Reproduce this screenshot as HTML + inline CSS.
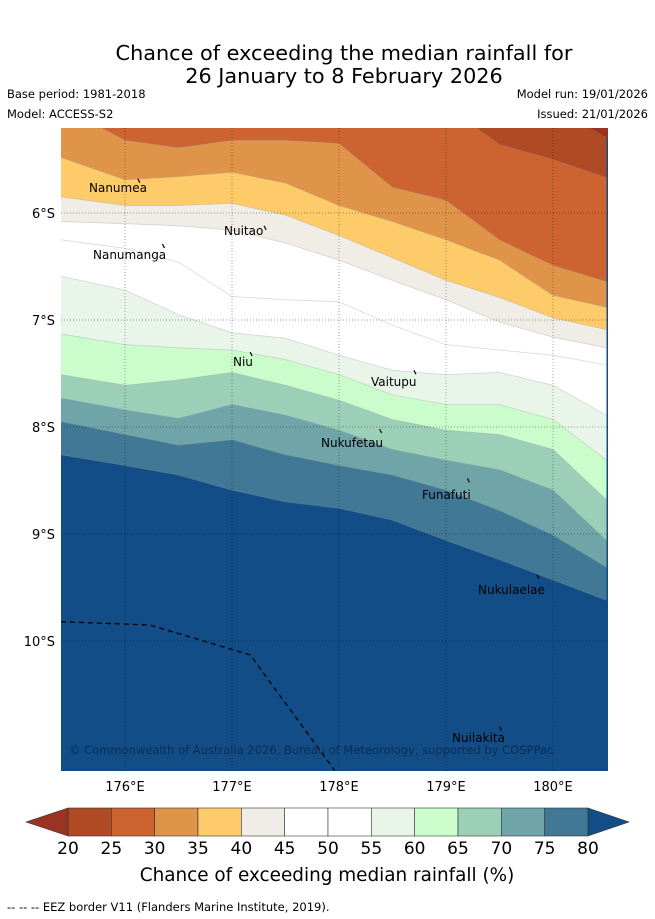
<!DOCTYPE html>
<html><head><meta charset="utf-8">
<style>
body{margin:0;background:#fff;font-family:"Liberation Sans","DejaVu Sans",sans-serif;}
#wrap{position:relative;width:655px;height:919px;overflow:hidden;}
</style></head>
<body>
<div id="wrap">
<svg id="svg" width="655" height="919" xmlns="http://www.w3.org/2000/svg" font-family="DejaVu Sans, Liberation Sans, sans-serif">
<text x="344" y="60" font-size="20.8" text-anchor="middle" fill="#000">Chance of exceeding the median rainfall for</text>
<text x="344" y="83" font-size="20.8" text-anchor="middle" fill="#000">26 January to 8 February 2026</text>
<text x="7" y="98" font-size="11.5">Base period: 1981-2018</text>
<text x="7" y="118" font-size="11.5">Model: ACCESS-S2</text>
<text x="648" y="98" font-size="11.5" text-anchor="end">Model run: 19/01/2026</text>
<text x="648" y="118" font-size="11.5" text-anchor="end">Issued: 21/01/2026</text>
<defs><clipPath id="mapclip"><rect x="61" y="128" width="547" height="643"/></clipPath></defs>
<g id="map" clip-path="url(#mapclip)"></g>
<g id="overlay"></g>
<g id="cbar"></g>
<text x="327" y="881" font-size="18.4" text-anchor="middle">Chance of exceeding median rainfall (%)</text>
<text x="7" y="911" font-size="11.5">--  --  -- EEZ border V11 (Flanders Marine Institute, 2019).</text>
</svg>
</div>
<script>
// ---- data ----
const lons = [175.4,176,176.5,177,177.5,178,178.5,179,179.5,180,180.5];
const levels = [25,30,35,40,45,50,55,60,65,70,75,80];
const b25 = [5.0,5.0,5.0,5.0,5.0,5.0,5.0,5.0,5.36,5.50,5.67];
const b30 = [5.0,5.32,5.39,5.32,5.32,5.35,5.76,5.88,6.25,6.49,6.64];
const b35 = [5.48,5.69,5.66,5.62,5.72,5.93,6.08,6.25,6.44,6.77,6.88];
const b40 = [5.85,5.93,5.93,5.91,6.02,6.21,6.42,6.63,6.79,6.98,7.09];
const b45 = [6.08,6.10,6.12,6.16,6.28,6.44,6.63,6.81,7.02,7.16,7.26];
const b50 = [6.25,6.33,6.46,6.78,6.81,6.83,7.05,7.23,7.28,7.33,7.42];
const b55 = [6.59,6.72,6.95,7.12,7.17,7.33,7.47,7.51,7.49,7.61,7.89];
const b60 = [7.13,7.23,7.26,7.28,7.37,7.51,7.70,7.79,7.79,7.93,8.31];
const b65 = [7.51,7.61,7.56,7.49,7.61,7.75,7.93,8.03,8.07,8.21,8.68];
const b70 = [7.73,7.84,7.92,7.79,7.89,8.03,8.21,8.31,8.40,8.59,9.06];
const b75 = [7.95,8.07,8.17,8.12,8.26,8.36,8.45,8.59,8.78,9.01,9.31];
const b80 = [8.26,8.36,8.45,8.59,8.70,8.76,8.87,9.06,9.24,9.43,9.62];
const colorTicks = [20,25,30,35,40,45,50,55,60,65,70,75,80];
const colors = ["#b04a25","#cc6331","#e0944a","#fecb6a","#f0ece6","#ffffff","#ffffff","#eaf5e9","#cbfccb","#9ccfb8","#6fa5a8","#417896"];
const underColor = "#9a3322", overColor = "#134d87";
const lonTicks = [176,177,178,179,180];
const latTicks = [6,7,8,9,10];
const eezLon = [175.4,176.23,177.17,177.96];
const eezLat = [9.82,9.85,10.13,11.21];
const islands = [["Nanumea",176.12,5.68,89,192],["Nuitao",177.3,6.12,224,235],["Nanumanga",176.35,6.29,93,259],["Niu",177.17,7.30,233,366],["Vaitupu",178.7,7.47,371,386],["Nukufetau",178.38,8.02,321,447],["Funafuti",179.2,8.48,422,499],["Nukulaelae",179.85,9.38,478,594],["Nuilakita",179.5,10.8,452,742]];
// ---- axes ----
const X = lon => 125 + (lon-176)*107;
const Y = lat => 213 + (lat-6)*107;
const NS='http://www.w3.org/2000/svg';
function mk(tag, parent){const e=document.createElementNS(NS,tag);parent.appendChild(e);return e;}
const map=document.getElementById('map'), ov=document.getElementById('overlay'), cb=document.getElementById('cbar');
const bounds=[b25,b30,b35,b40,b45,b50,b55,b60,b65,b70,b75,b80];
const bg=mk('rect',map);bg.setAttribute('x',61);bg.setAttribute('y',128);bg.setAttribute('width',547);bg.setAttribute('height',643);bg.setAttribute('fill',overColor);


function linePts(b){return lons.map((l,i)=>X(l).toFixed(1)+','+Y(b[i]).toFixed(1)).join(' ');}
for(let k=bounds.length-1;k>=0;k--){
  const b=bounds[k];
  const p=mk('polygon',map);
  p.setAttribute('points',X(lons[0])+','+Y(4)+' '+linePts(b)+' '+X(lons[lons.length-1])+','+Y(4));
  p.setAttribute('fill',colors[k]);
  
  
}
const under=mk('polygon',map);
under.setAttribute('points','590,128 608,128 608,138');
under.setAttribute('fill',underColor);


for(let k=0;k<bounds.length;k++){
  const l=mk('polyline',map);
  l.setAttribute('points',linePts(bounds[k]));
  l.setAttribute('fill','none');l.setAttribute('stroke','rgba(150,150,150,0.35)');l.setAttribute('stroke-width','0.8');
  
  
}
lonTicks.forEach(t=>{const g=mk('line',map);g.setAttribute('x1',X(t));g.setAttribute('x2',X(t));g.setAttribute('y1',128);g.setAttribute('y2',771);g.setAttribute('stroke','rgba(0,0,0,0.5)');g.setAttribute('stroke-width','0.7');g.setAttribute('stroke-dasharray','1,2');


const tx=mk('text',ov);tx.setAttribute('x',X(t));tx.setAttribute('y',791);tx.setAttribute('font-size','13');tx.setAttribute('text-anchor','middle');tx.textContent=t+'°E';

});
latTicks.forEach(t=>{const g=mk('line',map);g.setAttribute('x1',61);g.setAttribute('x2',608);g.setAttribute('y1',Y(t));g.setAttribute('y2',Y(t));g.setAttribute('stroke','rgba(0,0,0,0.5)');g.setAttribute('stroke-width','0.7');g.setAttribute('stroke-dasharray','1,2');


const tx=mk('text',ov);tx.setAttribute('x',55);tx.setAttribute('y',Y(t)+5);tx.setAttribute('font-size','13');tx.setAttribute('text-anchor','end');tx.textContent=t+'°S';

});
const ez=mk('polyline',map);
ez.setAttribute('points',eezLon.map((l,i)=>X(l)+','+Y(eezLat[i])).join(' '));
ez.setAttribute('fill','none');ez.setAttribute('stroke','#000');ez.setAttribute('stroke-width','1.3');ez.setAttribute('stroke-dasharray','5,4');


islands.forEach(is=>{
  const m=mk('line',map);m.setAttribute('x1',X(is[1]));m.setAttribute('y1',Y(is[2]));m.setAttribute('x2',X(is[1])+2);m.setAttribute('y2',Y(is[2])+4);m.setAttribute('stroke','#000');m.setAttribute('stroke-width','1.2');
  
  
  const t=mk('text',map);t.setAttribute('x',is[3]);t.setAttribute('y',is[4]);t.setAttribute('font-size','12');t.setAttribute('fill','#000');t.textContent=is[0];
  
  
});
const cp=mk('text',map);cp.setAttribute('x',69);cp.setAttribute('y',754);cp.setAttribute('font-size','11.5');cp.setAttribute('fill','rgba(10,35,70,0.75)');
cp.textContent='© Commonwealth of Australia 2026, Bureau of Meteorology, supported by COSPPac';


const cx0=68,cx1=588,cy0=808,cy1=836,seg=(cx1-cx0)/colors.length;
colors.forEach((c,i)=>{const r=mk('rect',cb);r.setAttribute('x',cx0+i*seg);r.setAttribute('y',cy0);r.setAttribute('width',seg);r.setAttribute('height',cy1-cy0);r.setAttribute('fill',c);r.setAttribute('stroke','#333');r.setAttribute('stroke-width','0.6');

});
const tl=mk('polygon',cb);tl.setAttribute('points',`${cx0},${cy0} 26,${(cy0+cy1)/2} ${cx0},${cy1}`);tl.setAttribute('fill',underColor);tl.setAttribute('stroke','#333');tl.setAttribute('stroke-width','0.6');


const tr=mk('polygon',cb);tr.setAttribute('points',`${cx1},${cy0} 629,${(cy0+cy1)/2} ${cx1},${cy1}`);tr.setAttribute('fill',overColor);tr.setAttribute('stroke','#333');tr.setAttribute('stroke-width','0.6');


colorTicks.forEach((t,i)=>{const tx=mk('text',cb);tx.setAttribute('x',cx0+i*seg);tx.setAttribute('y',854);tx.setAttribute('font-size','17');tx.setAttribute('text-anchor','middle');tx.textContent=t;

});
</script>
</body></html>
